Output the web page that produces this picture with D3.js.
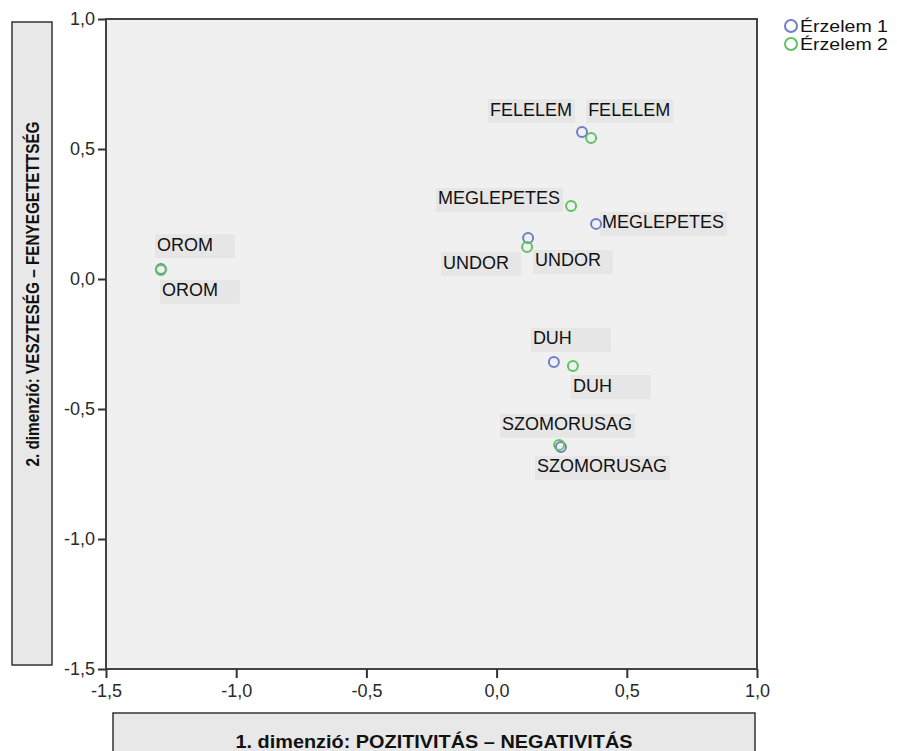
<!DOCTYPE html>
<html>
<head>
<meta charset="utf-8">
<script src="https://cdn.jsdelivr.net/npm/d3@7"></script>
<style>
  html, body { margin: 0; padding: 0; background: #ffffff; }
  svg { display: block; }
</style>
</head>
<body>
<script>
// ---- data ----
const emotions = ["FELELEM", "MEGLEPETES", "UNDOR", "OROM", "DUH", "SZOMORUSAG"];
const series = ["Érzelem 1", "Érzelem 2"];
const dim1_e1 = [0.328, 0.382, 0.121, -1.289, 0.220, 0.247];
const dim2_e1 = [0.565, 0.212, 0.158, 0.038, -0.319, -0.646];
const dim1_e2 = [0.363, 0.286, 0.117, -1.289, 0.293, 0.240];
const dim2_e2 = [0.542, 0.281, 0.123, 0.035, -0.335, -0.638];
const tickValues = [-1.5, -1.0, -0.5, 0.0, 0.5, 1.0];
const xTitle = "1. dimenzió: POZITIVITÁS – NEGATIVITÁS";
const yTitle = "2. dimenzió: VESZTESÉG  –  FENYEGETETTSÉG";

// label placement (pixel offsets of label text relative to its point)
const labelOffsets1 = [[-92, -23], [6, -2], [7, 22], [-4, -25], [-21, -24], [-24, 19]];
const labelOffsets2 = [[-3, -29], [-133, -8], [-84, 15], [1, 20], [0, 19], [-57, -21]];

const colors = ["#6f7ec8", "#5fc45f"];

const W = 897, H = 751;
const svg = d3.select("body").append("svg").attr("width", W).attr("height", H);

const x = d3.scaleLinear().domain([-1.5, 1.0]).range([106, 757]);
const y = d3.scaleLinear().domain([-1.5, 1.0]).range([669, 19]);

const loc = d3.formatLocale({decimal: ",", thousands: " ", grouping: [3], currency: ["", ""], minus: "-"});
const fmt = loc.format(".1f");

// plot background
svg.append("rect")
  .attr("x", x(-1.5)).attr("y", y(1.0))
  .attr("width", x(1.0) - x(-1.5)).attr("height", y(-1.5) - y(1.0))
  .attr("fill", "#f0f0f0").attr("stroke", "#444").attr("stroke-width", 2);

// axes
const font = "'Liberation Sans', Arial, sans-serif";
const gx = svg.append("g").attr("transform", `translate(0,${y(-1.5)})`)
  .call(d3.axisBottom(x).tickValues(tickValues).tickFormat(fmt).tickSize(9).tickPadding(6));
const gy = svg.append("g").attr("transform", `translate(${x(-1.5)},0)`)
  .call(d3.axisLeft(y).tickValues(tickValues).tickFormat(fmt).tickSize(8).tickPadding(3));
[gx, gy].forEach(g => {
  g.select(".domain").remove();
  g.selectAll(".tick line").attr("stroke", "#333").attr("stroke-width", 2);
  g.selectAll(".tick text").attr("fill", "#2a2a2a").style("font-family", font).style("font-size", "18px");
});

// axis title boxes
svg.append("rect").attr("x", 12).attr("y", 22).attr("width", 40).attr("height", 643)
  .attr("fill", "#e8e8e8").attr("stroke", "#333").attr("stroke-width", 1.5);
svg.append("text")
  .attr("transform", "translate(39,294) rotate(-90)")
  .attr("text-anchor", "middle")
  .attr("textLength", 345).attr("lengthAdjust", "spacingAndGlyphs")
  .style("font-family", font).style("font-size", "19px").style("font-weight", "bold")
  .attr("fill", "#111").text(yTitle);

svg.append("rect").attr("x", 113).attr("y", 713).attr("width", 642).attr("height", 60)
  .attr("fill", "#e8e8e8").attr("stroke", "#333").attr("stroke-width", 1.5);
svg.append("text")
  .attr("x", 434).attr("y", 748)
  .attr("text-anchor", "middle")
  .attr("textLength", 397).attr("lengthAdjust", "spacingAndGlyphs")
  .style("font-family", font).style("font-size", "18px").style("font-weight", "bold")
  .attr("fill", "#111").text(xTitle);

// labels
function drawLabels(xs, ys, offs) {
  emotions.forEach((name, i) => {
    const px = x(xs[i]), py = y(ys[i]);
    const tx = px + offs[i][0], ty = py + offs[i][1];
    const g = svg.append("g");
    const bg = g.append("rect");
    const t = g.append("text").attr("x", tx).attr("y", ty).attr("dy", "0.36em")
      .style("font-family", font).style("font-size", "18px").attr("fill", "#111").text(name);
    const w = t.node().getComputedTextLength();
    bg.attr("x", tx - 2).attr("y", ty - 10).attr("width", Math.max(80, w + 5)).attr("height", 24)
      .attr("fill", "#e6e6e6");
  });
}
drawLabels(dim1_e1, dim2_e1, labelOffsets1);
drawLabels(dim1_e2, dim2_e2, labelOffsets2);

// points
function drawPoints(xs, ys, color) {
  svg.append("g").selectAll("circle").data(emotions).join("circle")
    .attr("cx", (d, i) => x(xs[i])).attr("cy", (d, i) => y(ys[i])).attr("r", 5)
    .attr("fill", "none").attr("stroke", color).attr("stroke-width", 2);
}
drawPoints(dim1_e1, dim2_e1, colors[0]);
drawPoints(dim1_e2, dim2_e2, colors[1]);

// legend
series.forEach((s, i) => {
  const cy = 26 + i * 18;
  svg.append("circle").attr("cx", 791).attr("cy", cy).attr("r", 6)
    .attr("fill", "none").attr("stroke", colors[i]).attr("stroke-width", 2);
  svg.append("text").attr("x", 800).attr("y", cy).attr("dy", "0.35em")
    .attr("textLength", 88).attr("lengthAdjust", "spacingAndGlyphs")
    .style("font-family", font).style("font-size", "16px").attr("fill", "#111").text(s);
});
</script>
</body>
</html>
